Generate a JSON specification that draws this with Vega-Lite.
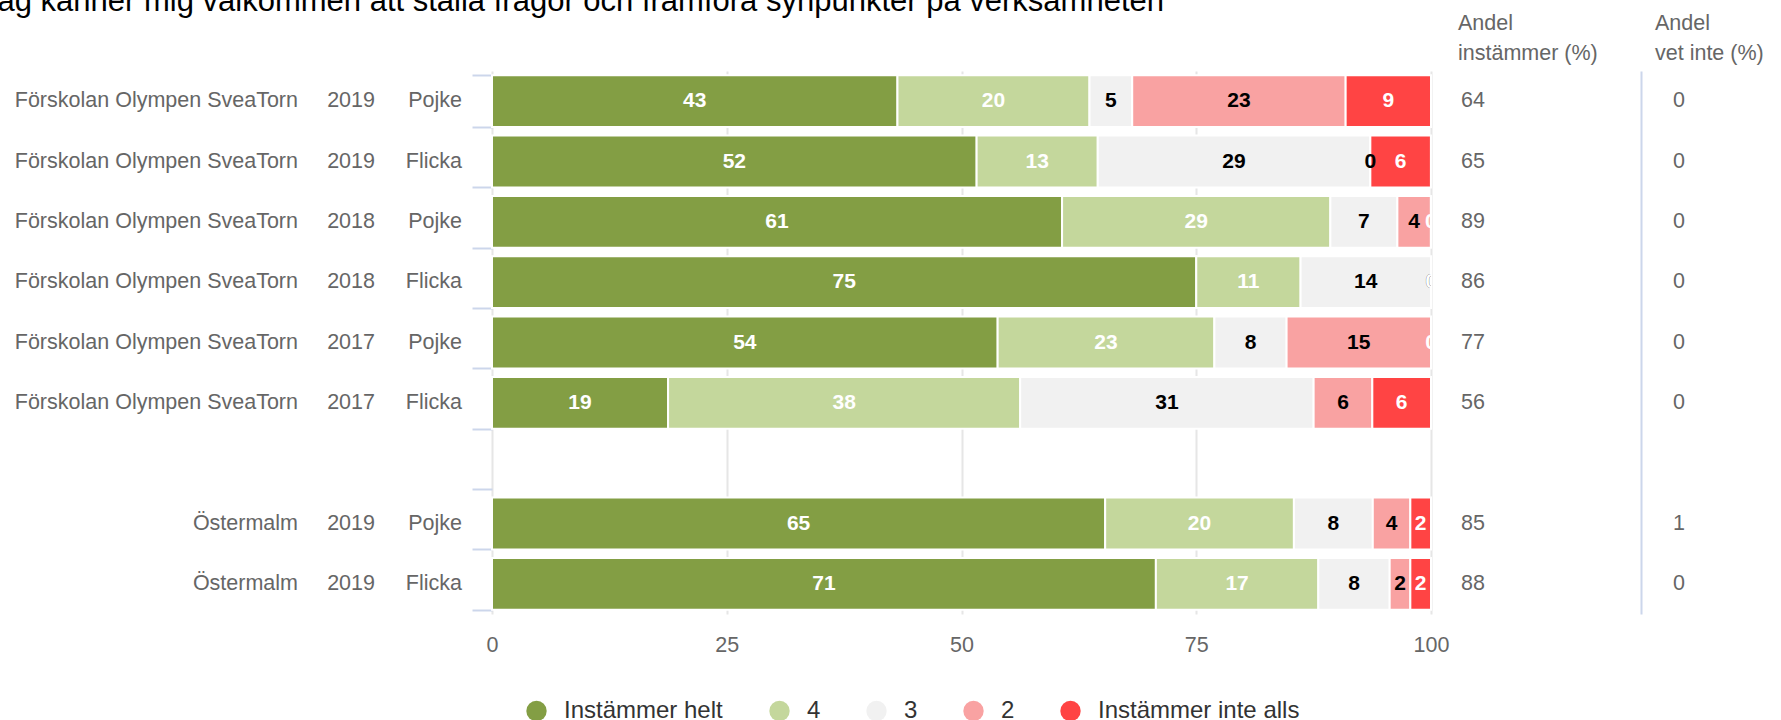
{
  "$schema": "https://vega.github.io/schema/vega-lite/v6.json",
  "background": "white",
  "padding": {"left": -18, "top": -15, "right": 0, "bottom": 0},
  "title": {
    "text": "Jag känner mig välkommen att ställa frågor och framföra synpunkter på verksamheten",
    "anchor": "start",
    "frame": "group",
    "dx": -18,
    "offset": -5,
    "fontSize": 31,
    "font": "Liberation Sans",
    "fontWeight": "normal",
    "color": "#000000"
  },
  "bounds": "flush",
  "spacing": 30,
  "datasets": {
    "bars": [
      {"rad": 1, "svar": "Instämmer helt", "niva": 5, "andel": 43.18},
      {"rad": 1, "svar": "4", "niva": 4, "andel": 20.45},
      {"rad": 1, "svar": "3", "niva": 3, "andel": 4.55},
      {"rad": 1, "svar": "2", "niva": 2, "andel": 22.73},
      {"rad": 1, "svar": "Instämmer inte alls", "niva": 1, "andel": 9.09},
      {"rad": 2, "svar": "Instämmer helt", "niva": 5, "andel": 51.61},
      {"rad": 2, "svar": "4", "niva": 4, "andel": 12.9},
      {"rad": 2, "svar": "3", "niva": 3, "andel": 29.03},
      {"rad": 2, "svar": "2", "niva": 2, "andel": 0},
      {"rad": 2, "svar": "Instämmer inte alls", "niva": 1, "andel": 6.45},
      {"rad": 3, "svar": "Instämmer helt", "niva": 5, "andel": 60.71},
      {"rad": 3, "svar": "4", "niva": 4, "andel": 28.57},
      {"rad": 3, "svar": "3", "niva": 3, "andel": 7.14},
      {"rad": 3, "svar": "2", "niva": 2, "andel": 3.57},
      {"rad": 3, "svar": "Instämmer inte alls", "niva": 1, "andel": 0},
      {"rad": 4, "svar": "Instämmer helt", "niva": 5, "andel": 75.0},
      {"rad": 4, "svar": "4", "niva": 4, "andel": 11.11},
      {"rad": 4, "svar": "3", "niva": 3, "andel": 13.89},
      {"rad": 4, "svar": "2", "niva": 2, "andel": 0},
      {"rad": 4, "svar": "Instämmer inte alls", "niva": 1, "andel": 0},
      {"rad": 5, "svar": "Instämmer helt", "niva": 5, "andel": 53.85},
      {"rad": 5, "svar": "4", "niva": 4, "andel": 23.08},
      {"rad": 5, "svar": "3", "niva": 3, "andel": 7.69},
      {"rad": 5, "svar": "2", "niva": 2, "andel": 15.38},
      {"rad": 5, "svar": "Instämmer inte alls", "niva": 1, "andel": 0},
      {"rad": 6, "svar": "Instämmer helt", "niva": 5, "andel": 18.75},
      {"rad": 6, "svar": "4", "niva": 4, "andel": 37.5},
      {"rad": 6, "svar": "3", "niva": 3, "andel": 31.25},
      {"rad": 6, "svar": "2", "niva": 2, "andel": 6.25},
      {"rad": 6, "svar": "Instämmer inte alls", "niva": 1, "andel": 6.25},
      {"rad": 8, "svar": "Instämmer helt", "niva": 5, "andel": 65.3},
      {"rad": 8, "svar": "4", "niva": 4, "andel": 20.1},
      {"rad": 8, "svar": "3", "niva": 3, "andel": 8.4},
      {"rad": 8, "svar": "2", "niva": 2, "andel": 4.0},
      {"rad": 8, "svar": "Instämmer inte alls", "niva": 1, "andel": 2.2},
      {"rad": 9, "svar": "Instämmer helt", "niva": 5, "andel": 70.7},
      {"rad": 9, "svar": "4", "niva": 4, "andel": 17.3},
      {"rad": 9, "svar": "3", "niva": 3, "andel": 7.6},
      {"rad": 9, "svar": "2", "niva": 2, "andel": 2.2},
      {"rad": 9, "svar": "Instämmer inte alls", "niva": 1, "andel": 2.2}
    ],
    "rader": [
      {"rad": 1, "skola": "Förskolan Olympen SveaTorn", "ar": "2019", "kon": "Pojke", "instammer": 64, "vetinte": 0},
      {"rad": 2, "skola": "Förskolan Olympen SveaTorn", "ar": "2019", "kon": "Flicka", "instammer": 65, "vetinte": 0},
      {"rad": 3, "skola": "Förskolan Olympen SveaTorn", "ar": "2018", "kon": "Pojke", "instammer": 89, "vetinte": 0},
      {"rad": 4, "skola": "Förskolan Olympen SveaTorn", "ar": "2018", "kon": "Flicka", "instammer": 86, "vetinte": 0},
      {"rad": 5, "skola": "Förskolan Olympen SveaTorn", "ar": "2017", "kon": "Pojke", "instammer": 77, "vetinte": 0},
      {"rad": 6, "skola": "Förskolan Olympen SveaTorn", "ar": "2017", "kon": "Flicka", "instammer": 56, "vetinte": 0},
      {"rad": 8, "skola": "Östermalm", "ar": "2019", "kon": "Pojke", "instammer": 85, "vetinte": 1},
      {"rad": 9, "skola": "Östermalm", "ar": "2019", "kon": "Flicka", "instammer": 88, "vetinte": 0}
    ]
  },
  "hconcat": [
    {
      "width": 298, "height": 543,
      "data": {"name": "rader"},
      "mark": {"type": "text", "align": "right", "baseline": "middle", "x": "width", "fontSize": 21.5, "font": "Liberation Sans", "color": "#666666"},
      "encoding": {
        "y": {"field": "rad", "type": "ordinal", "scale": {"domain": [1,2,3,4,5,6,7,8,9]}, "axis": null},
        "text": {"field": "skola"}
      }
    },
    {
      "width": 47, "height": 543,
      "data": {"name": "rader"},
      "mark": {"type": "text", "align": "right", "baseline": "middle", "x": "width", "fontSize": 21.5, "font": "Liberation Sans", "color": "#666666"},
      "encoding": {
        "y": {"field": "rad", "type": "ordinal", "scale": {"domain": [1,2,3,4,5,6,7,8,9]}, "axis": null},
        "text": {"field": "ar"}
      }
    },
    {
      "width": 57, "height": 543,
      "data": {"name": "rader"},
      "mark": {"type": "text", "align": "right", "baseline": "middle", "x": "width", "fontSize": 21.5, "font": "Liberation Sans", "color": "#666666"},
      "encoding": {
        "y": {"field": "rad", "type": "ordinal", "scale": {"domain": [1,2,3,4,5,6,7,8,9]}, "axis": null},
        "text": {"field": "kon"}
      }
    },
    {
      "width": 939, "height": 543,
      "data": {"name": "bars"},
      "encoding": {
        "y": {
          "field": "rad", "type": "ordinal",
          "scale": {"domain": [1,2,3,4,5,6,7,8,9], "paddingInner": 0.14, "paddingOuter": 0.07},
          "axis": {"title": null, "labels": false, "domain": false, "grid": false, "ticks": true, "tickBand": "extent", "tickSize": 20, "tickColor": "#ccd6eb", "tickWidth": 2}
        },
        "x": {
          "field": "andel", "type": "quantitative", "stack": "zero",
          "scale": {"domain": [0, 100], "nice": false},
          "axis": {"values": [0, 25, 50, 75, 100], "title": null, "domain": false, "ticks": false, "tickSize": 0, "labelPadding": 20, "labelFontSize": 21.5, "labelFont": "Liberation Sans", "labelColor": "#666666", "labelFlush": false, "grid": true, "gridColor": "#e6e6e6", "gridWidth": 2}
        },
        "order": {"field": "niva", "sort": "descending"}
      },
      "layer": [
        {
          "mark": {"type": "bar", "stroke": "white", "strokeWidth": 2},
          "encoding": {
            "color": {
              "field": "svar", "type": "nominal",
              "scale": {"domain": ["Instämmer helt", "4", "3", "2", "Instämmer inte alls"], "range": ["#839e44", "#c4d79c", "#f1f1f1", "#f9a2a2", "#ff4444"]},
              "legend": {"orient": "none", "legendX": 524.5, "legendY": 628, "direction": "horizontal", "title": null, "symbolType": "circle", "symbolSize": 415, "symbolStrokeWidth": 0, "symbolOpacity": 1, "labelFontSize": 24, "labelFont": "Liberation Sans", "labelColor": "#333333", "labelOffset": 15.5, "columnPadding": 44, "padding": 0, "labelLimit": 400}
            }
          }
        },
        {
          "mark": {"type": "text", "fontSize": 21, "fontWeight": "bold", "font": "Liberation Sans", "baseline": "middle", "clip": true},
          "encoding": {
            "x": {"field": "andel", "type": "quantitative", "stack": "zero", "bandPosition": 0.5},
            "detail": {"field": "svar"},
            "text": {"field": "andel", "type": "quantitative", "format": ".0f"},
            "color": {"condition": {"test": "datum.niva == 3 || datum.niva == 2", "value": "#000000"}, "value": "#ffffff"}
          }
        }
      ]
    },
    {
      "width": 150, "height": 543,
      "data": {"name": "rader"},
      "title": {"text": ["Andel", "instämmer (%)"], "anchor": "start", "frame": "group", "dx": -3, "offset": 7, "fontSize": 21.5, "lineHeight": 30, "font": "Liberation Sans", "fontWeight": "normal", "color": "#666666"},
      "mark": {"type": "text", "align": "left", "baseline": "middle", "x": 0, "fontSize": 21.5, "font": "Liberation Sans", "color": "#666666"},
      "encoding": {
        "y": {"field": "rad", "type": "ordinal", "scale": {"domain": [1,2,3,4,5,6,7,8,9]}, "axis": null},
        "text": {"field": "instammer"}
      }
    },
    {
      "width": 76, "height": 543,
      "data": {"name": "rader"},
      "title": {"text": ["Andel", "vet inte (%)"], "anchor": "start", "frame": "group", "dx": 14, "offset": 7, "fontSize": 21.5, "lineHeight": 30, "font": "Liberation Sans", "fontWeight": "normal", "color": "#666666"},
      "mark": {"type": "text", "align": "center", "baseline": "middle", "x": {"expr": "width / 2"}, "fontSize": 21.5, "font": "Liberation Sans", "color": "#666666"},
      "encoding": {
        "y": {"field": "rad", "type": "ordinal", "scale": {"domain": [1,2,3,4,5,6,7,8,9]}, "axis": {"title": null, "labels": false, "ticks": false, "grid": false, "domain": true, "domainColor": "#ccd6eb", "domainWidth": 2}},
        "text": {"field": "vetinte"}
      }
    }
  ],
  "config": {
    "view": {"stroke": null},
    "font": "Liberation Sans"
  }
}
